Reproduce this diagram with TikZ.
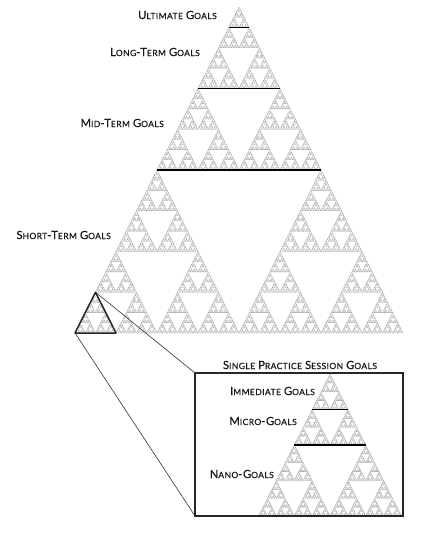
\documentclass[tikz,border=0pt]{standalone}
\usepackage{fontspec}
\setmainfont{Lato}
\newfontfamily\lblfont{Lato}[FakeBold=0.5, LetterSpace=5]
\newcommand\gbigc[1]{{\fontsize{11.2}{12}\selectfont #1}}
\newcommand\gsmc[1]{{\fontsize{8.5}{9}\selectfont #1}}
\newcommand\gsc[2]{\gbigc{#1}\gsmc{#2}}
\tikzset{
  tri/.style={draw=gray!70, line width=0.3pt, line join=round},
  level/.style={draw=black, line width=1.4pt},
  lbl/.style={inner sep=0pt, anchor=east, text=black!90, font=\lblfont},
  conn/.style={draw=black!80, line width=0.6pt},
  frame/.style={draw=black!85, line width=1.2pt}
}
% #1 depth, #2 apex x, #3 apex y, #4 width, #5 height
\def\mysierp#1#2#3#4#5{%
  \ifnum#1=0
    \path[tri] (#2,#3) -- ++(-#4/2,#5) -- ++(#4,0) -- cycle;
  \else
    \begingroup
    \pgfmathsetmacro\hw{#4/2}%
    \pgfmathsetmacro\hh{#5/2}%
    \pgfmathsetmacro\qw{#4/4}%
    \pgfmathtruncatemacro\nd{#1-1}%
    \pgfmathsetmacro\lx{#2-\qw}%
    \pgfmathsetmacro\rx{#2+\qw}%
    \pgfmathsetmacro\ly{#3+\hh}%
    \edef\next{\noexpand\mysierp{\nd}{#2}{#3}{\hw}{\hh}%
      \noexpand\mysierp{\nd}{\lx}{\ly}{\hw}{\hh}%
      \noexpand\mysierp{\nd}{\rx}{\ly}{\hw}{\hh}}%
    \expandafter\endgroup\next
  \fi}
\begin{document}
\begin{tikzpicture}[x=1pt,y=-1pt]
\useasboundingbox (0,0) rectangle (431,540);
\fill[white] (0,0) rectangle (431,540);
% big Sierpinski triangle
\mysierp{7}{239}{7}{328}{326}
% inner Sierpinski triangle
\mysierp{6}{330}{374}{143}{142}
% level lines (big)
\coordinate (u1) at (228.75,27.4); \coordinate (u2) at (249.25,27.4);
\coordinate (l1) at (198,88.5); \coordinate (l2) at (280,88.5);
\coordinate (m1) at (157,170); \coordinate (m2) at (321,170);
\draw[level] (u1) -- (u2);
\draw[level] (l1) -- (l2);
\draw[level] (m1) -- (m2);
% level lines (inner)
\coordinate (i1) at (312.1,409.5); \coordinate (i2) at (347.9,409.5);
\coordinate (c1) at (294.25,445); \coordinate (c2) at (365.75,445);
\draw[level] (i1) -- (i2);
\draw[level] (c1) -- (c2);
% highlighted small triangle
\coordinate (sa) at (95.5,292.25);
\coordinate (sl) at (75,333);
\coordinate (sr) at (116,333);
\draw[black!85, line width=1.5pt, line join=round] (sa) -- (sl) -- (sr) -- cycle;
% zoom frame
\coordinate (btl) at (195,373);
\coordinate (bbl) at (195,516);
\coordinate (bbr) at (403,516);
\draw[frame] (btl) rectangle (bbr);
\draw[conn] (sa) -- (btl);
\draw[conn] (sl) -- (bbl);
% labels
\node[lbl] (ult) at (217,15) {\gsc{U}{LTIMATE} \gsc{G}{OALS}};
\node[lbl] (long) at (200,52) {\gsc{L}{ONG}\gbigc{-}\gsc{T}{ERM} \gsc{G}{OALS}};
\node[lbl] (mid) at (164,123) {\gsc{M}{ID}\gbigc{-}\gsc{T}{ERM} \gsc{G}{OALS}};
\node[lbl] (short) at (111,235) {\gsc{S}{HORT}\gbigc{-}\gsc{T}{ERM} \gsc{G}{OALS}};
\node[lbl, anchor=center] (sps) at (300,365) {\gsc{S}{INGLE} \gsc{P}{RACTICE} \gsc{S}{ESSION} \gsc{G}{OALS}};
\node[lbl] (imm) at (315,391) {\gsc{I}{MMEDIATE} \gsc{G}{OALS}};
\node[lbl] (micro) at (297,421) {\gsc{M}{ICRO}\gbigc{-}\gsc{G}{OALS}};
\node[lbl] (nano) at (274,474) {\gsc{N}{ANO}\gbigc{-}\gsc{G}{OALS}};
\end{tikzpicture}
\end{document}
